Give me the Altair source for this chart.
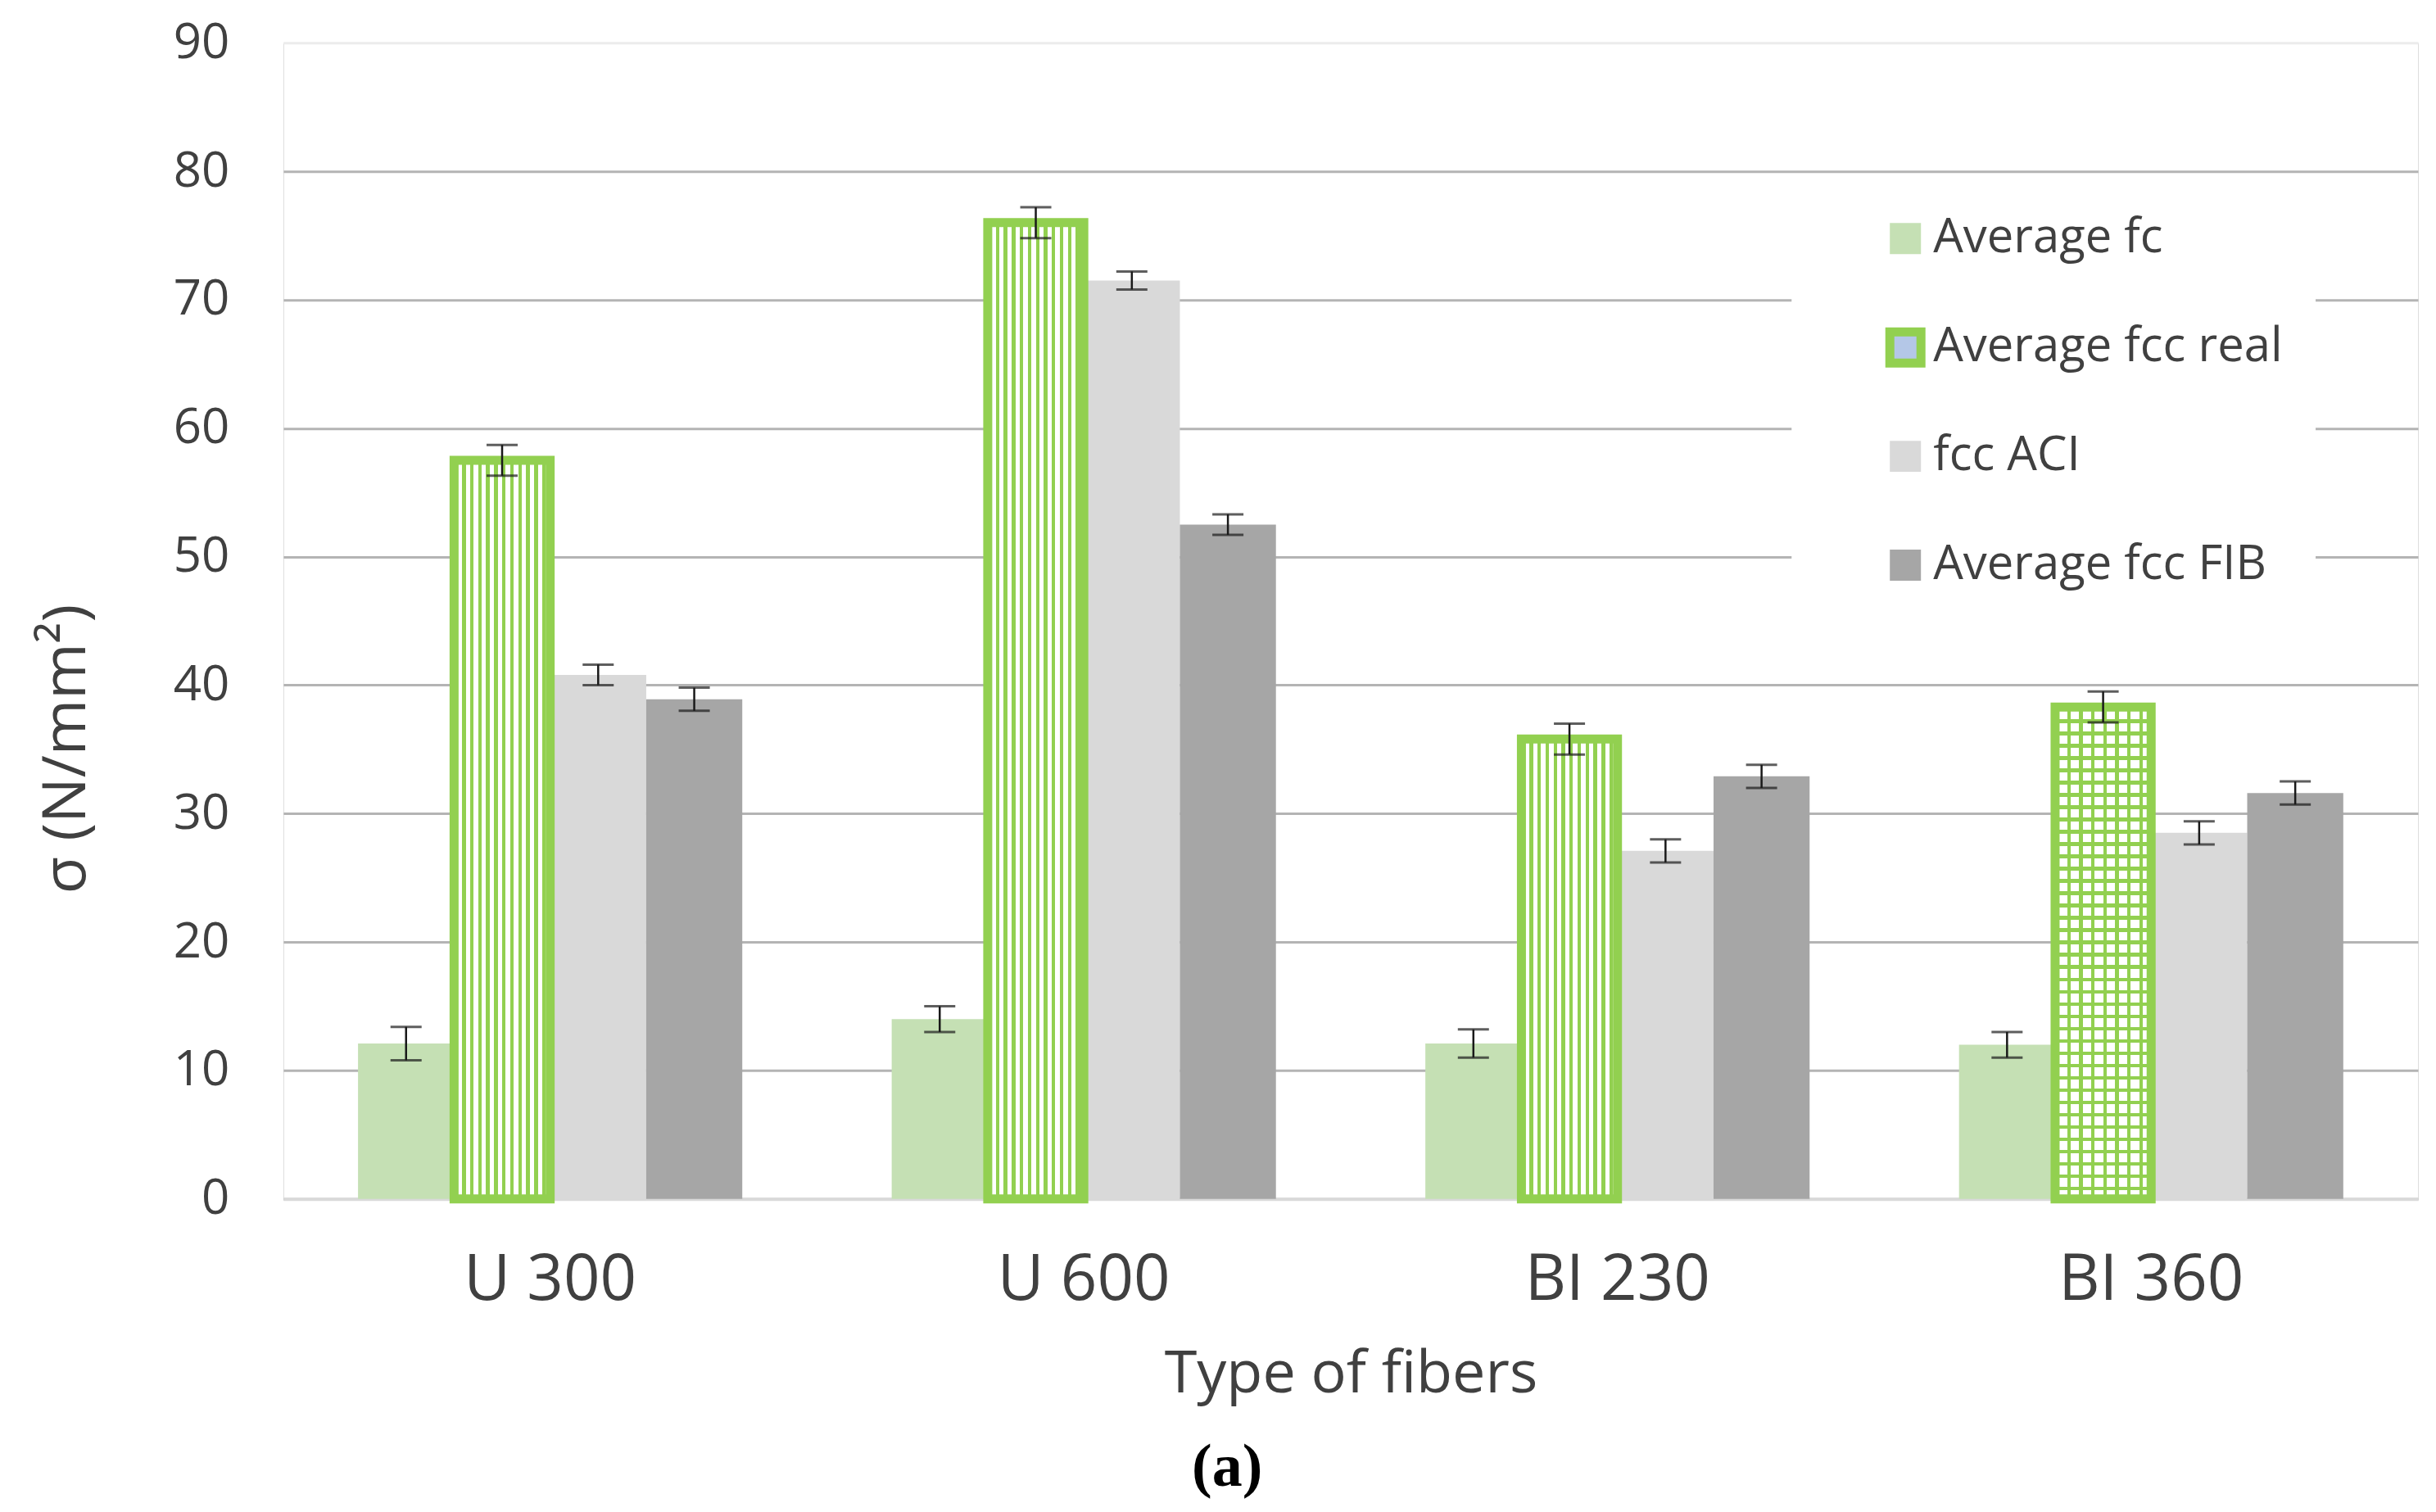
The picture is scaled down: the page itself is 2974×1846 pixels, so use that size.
import altair as alt
import pandas as pd

fibers = ["U 300", "U 600", "BI 230", "BI 360"]
series = ["Average fc", "Average fcc real", "fcc ACI", "Average fcc FIB"]

avg_fc = [12.1, 14.0, 12.1, 12.0]
avg_fcc_real = [57.5, 76.0, 35.8, 38.3]
fcc_aci = [40.8, 71.5, 27.1, 28.5]
avg_fcc_fib = [38.9, 52.5, 32.9, 31.6]

err_fc = [1.3, 1.0, 1.1, 1.0]
err_real = [1.2, 1.2, 1.2, 1.2]
err_aci = [0.8, 0.7, 0.9, 0.9]
err_fib = [0.9, 0.8, 0.9, 0.9]

y_ticks = [0, 10, 20, 30, 40, 50, 60, 70, 80, 90]

rows = []
for vals, errs, s in [(avg_fc, err_fc, series[0]), (avg_fcc_real, err_real, series[1]),
                      (fcc_aci, err_aci, series[2]), (avg_fcc_fib, err_fib, series[3])]:
    for f, v, e in zip(fibers, vals, errs):
        rows.append({"fiber": f, "series": s, "value": v, "err": e})
df = pd.DataFrame(rows)

GREEN = "#92d050"
FONT = "Open Sans"
TXT = "#404040"


def stripes(n, frac, line_color, gap_color, horizontal=False):
    stops = []
    for i in range(n):
        s = i / n
        g = s + frac / n
        e = (i + 1) / n
        stops += [
            alt.GradientStop(offset=s, color=line_color),
            alt.GradientStop(offset=g, color=line_color),
            alt.GradientStop(offset=g, color=gap_color),
            alt.GradientStop(offset=e, color=gap_color),
        ]
    if horizontal:
        return alt.Gradient(gradient="linear", stops=stops, x1=0, x2=0, y1=0, y2=1)
    return alt.Gradient(gradient="linear", stops=stops, x1=0, x2=1, y1=0, y2=0)


x_enc = alt.X("fiber:N", sort=fibers,
              scale=alt.Scale(paddingInner=0.28, paddingOuter=0.14),
              axis=alt.Axis(title="Type of fibers", labelAngle=0, ticks=False, labelLimit=0,
                            labelFontSize=78, labelPadding=61, titleFontSize=72,
                            titlePadding=40, titleFontWeight="normal",
                            domainColor="#d9d9d9", domainWidth=4,
                            labelColor=TXT, titleColor=TXT, labelFont=FONT, titleFont=FONT))
xoff_enc = alt.XOffset("series:N", sort=series, scale=alt.Scale(domain=series, paddingInner=0, paddingOuter=0))
y_enc = alt.Y("value:Q",
              scale=alt.Scale(domain=[0, 90], nice=False),
              axis=alt.Axis(title="σ (N/mm²)", values=y_ticks, ticks=False, domain=False,
                            labelFontSize=60, labelPadding=66, titleFontSize=74,
                            titlePadding=92, titleY=862, titleFontWeight="normal",
                            gridColor={"condition": {"test": "datum.value === 90", "value": "#ececec"},
                                       "value": "#b4b4b4"},
                            gridWidth=3,
                            labelColor=TXT, titleColor=TXT, labelFont=FONT, titleFont=FONT))

legend_kw = dict(title=None, orient="none", legendX=1842, legendY=170,
                 symbolType="square", symbolSize=1444, symbolStrokeWidth=11,
                 labelFontSize=58, labelFont=FONT, labelColor=TXT,
                 rowPadding=51, padding=40, symbolOffset=70, labelOffset=5,
                 fillColor="white", labelLimit=800)

base = alt.Chart(df)

bars = base.mark_bar().encode(
    x=x_enc, xOffset=xoff_enc, y=y_enc,
    fill=alt.Fill("series:N", sort=series,
                  scale=alt.Scale(domain=series, range=["#c5e0b4", "#b4c7e7", "#d9d9d9", "#a6a6a6"]),
                  legend=alt.Legend(**legend_kw)),
    stroke=alt.Stroke("series:N", sort=series,
                      scale=alt.Scale(domain=series, range=["transparent", GREEN, "transparent", "transparent"]),
                      legend=alt.Legend(**legend_kw)),
)

real_v = base.mark_bar(fill=stripes(12, 0.45, GREEN, "#ffffff"), stroke=GREEN, strokeWidth=11).encode(
    x=alt.X("fiber:N", sort=fibers), xOffset=alt.XOffset("series:N", sort=series), y="value:Q"
).transform_filter(
    (alt.datum.series == series[1]) & (alt.datum.fiber != "BI 360")
)

grid_v = base.mark_bar(fill=stripes(8, 0.3, GREEN, "#ffffff")).encode(
    x=alt.X("fiber:N", sort=fibers), xOffset=alt.XOffset("series:N", sort=series), y="value:Q"
).transform_filter(
    (alt.datum.series == series[1]) & (alt.datum.fiber == "BI 360")
)

grid_h = base.mark_bar(fill=stripes(40, 0.3, GREEN, "rgba(255,255,255,0)", horizontal=True),
                       stroke=GREEN, strokeWidth=11).encode(
    x=alt.X("fiber:N", sort=fibers), xOffset=alt.XOffset("series:N", sort=series), y="value:Q"
).transform_filter(
    (alt.datum.series == series[1]) & (alt.datum.fiber == "BI 360")
)

eb = base.transform_calculate(lo="datum.value - datum.err", hi="datum.value + datum.err")

err_rule = eb.mark_rule(color="#1a1a1a", strokeWidth=2.5).encode(
    x=alt.X("fiber:N", sort=fibers), xOffset=alt.XOffset("series:N", sort=series),
    y="lo:Q", y2="hi:Q"
)
cap_lo = eb.mark_tick(color="#1a1a1a", size=38, thickness=3, orient="horizontal").encode(
    x=alt.X("fiber:N", sort=fibers), xOffset=alt.XOffset("series:N", sort=series), y="lo:Q"
)
cap_hi = eb.mark_tick(color="#1a1a1a", size=38, thickness=3, orient="horizontal").encode(
    x=alt.X("fiber:N", sort=fibers), xOffset=alt.XOffset("series:N", sort=series), y="hi:Q"
)

chart = alt.layer(bars, real_v, grid_v, grid_h, err_rule, cap_lo, cap_hi).properties(
    width=2607, height=1412,
    padding={"left": 36, "top": 14, "right": 14, "bottom": 6},
    title=alt.TitleParams("(a)", orient="bottom", font="Liberation Serif", fontSize=74,
                          fontWeight="bold", color="black", frame="bounds", anchor="middle", offset=42),
).configure_view(stroke="#e8e8e8", strokeWidth=3).configure(background="white")

chart.save("out.html", embed_options={"renderer": "svg", "actions": False})
